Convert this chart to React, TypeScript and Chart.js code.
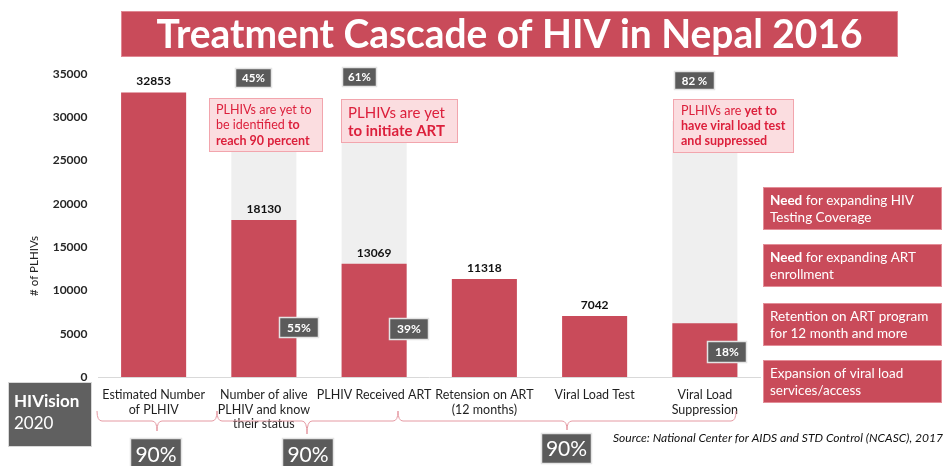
import React, { useEffect, useRef } from "react";
import { Chart, registerables } from "chart.js";

Chart.register(...registerables);

// ---------- data ----------
const categories: string[][] = [
  ["Estimated Number", "of PLHIV"],
  ["Number of alive", "PLHIV and know", "their status"],
  ["PLHIV Received ART"],
  ["Retension on ART", "(12 months)"],
  ["Viral Load Test"],
  ["Viral Load", "Suppression"],
];
const plhivValues = [32853, 18130, 13069, 11318, 7042, 6200];
const valueLabels = ["32853", "18130", "13069", "11318", "7042", ""];
const targetValues = [null, 29568, 29568, null, null, 29568];
const yMin = 0;
const yMax = 35000;
const yStep = 5000;
const gapPercents = ["45%", "61%", "82 %"];
const reachedPercents = ["55%", "39%", "18%"];
const titleText = "Treatment Cascade of HIV in Nepal 2016";
const yAxisTitle = "# of PLHIVs";
const sourceText = "Source: National Center for AIDS and STD Control (NCASC), 2017";
const targetPercents = ["90%", "90%", "90%"];

type Seg = { t: string; b?: boolean };
const gapNotes: Seg[][][] = [
  [[{ t: "PLHIVs are yet to" }], [{ t: "be identified " }, { t: "to", b: true }], [{ t: "reach 90 percent", b: true }]],
  [[{ t: "PLHIVs are yet" }], [{ t: "to initiate ART", b: true }]],
  [[{ t: "PLHIVs are " }, { t: "yet to", b: true }], [{ t: "have viral load test", b: true }], [{ t: "and suppressed", b: true }]],
];
const needNotes: Seg[][][] = [
  [[{ t: "Need", b: true }, { t: " for expanding HIV" }], [{ t: "Testing Coverage" }]],
  [[{ t: "Need", b: true }, { t: " for expanding ART" }], [{ t: "enrollment" }]],
  [[{ t: "Retention on ART program" }], [{ t: "for 12 month and more" }]],
  [[{ t: "Expansion of viral load" }], [{ t: "services/access" }]],
];

const FONT = 'Lato, "Open Sans", sans-serif';
const RED = "#c94b5a";
const DARK = "#5b5b5b";

function drawRich(ctx: CanvasRenderingContext2D, segs: Seg[], x: number, y: number, size: number, color: string) {
  let cx = x;
  ctx.fillStyle = color;
  ctx.textAlign = "left";
  ctx.textBaseline = "middle";
  for (const s of segs) {
    ctx.font = `${s.b ? "bold " : ""}${size}px ${FONT}`;
    ctx.fillText(s.t, cx, y);
    cx += ctx.measureText(s.t).width;
  }
}

function rect(ctx: CanvasRenderingContext2D, x1: number, y1: number, x2: number, y2: number, fill: string, stroke?: string, lw = 1) {
  ctx.fillStyle = fill;
  ctx.fillRect(x1, y1, x2 - x1, y2 - y1);
  if (stroke) {
    ctx.strokeStyle = stroke;
    ctx.lineWidth = lw;
    ctx.strokeRect(x1 + 0.5, y1 + 0.5, x2 - x1 - 1, y2 - y1 - 1);
  }
}

function tag(ctx: CanvasRenderingContext2D, x1: number, y1: number, x2: number, y2: number, text: string, size: number, bold: boolean) {
  rect(ctx, x1, y1, x2, y2, DARK, "#e4e4e4", 1.5);
  ctx.fillStyle = "#ffffff";
  ctx.font = `${bold ? "bold " : ""}${size}px ${FONT}`;
  ctx.textAlign = "center";
  ctx.textBaseline = "middle";
  ctx.fillText(text, (x1 + x2) / 2, (y1 + y2) / 2 + 0.5);
}

function brace(ctx: CanvasRenderingContext2D, x1: number, x2: number, xm: number, yTop: number, yMid: number, yTip: number) {
  const r = 5;
  ctx.beginPath();
  ctx.moveTo(x1, yTop);
  ctx.quadraticCurveTo(x1, yMid, x1 + r, yMid);
  ctx.lineTo(xm - r, yMid);
  ctx.quadraticCurveTo(xm, yMid, xm, yTip);
  ctx.quadraticCurveTo(xm, yMid, xm + r, yMid);
  ctx.lineTo(x2 - r, yMid);
  ctx.quadraticCurveTo(x2, yMid, x2, yTop);
  ctx.strokeStyle = "#e59aa3";
  ctx.lineWidth = 1;
  ctx.stroke();
}

const decorPlugin = {
  id: "decor",
  afterDraw(chart: any) {
    const ctx: CanvasRenderingContext2D = chart.ctx;
    ctx.save();

    // value labels above bars
    const meta = chart.getDatasetMeta(0);
    ctx.font = `bold 12px ${FONT}`;
    ctx.fillStyle = "#111111";
    ctx.textAlign = "center";
    ctx.textBaseline = "middle";
    meta.data.forEach((el: any, i: number) => {
      if (valueLabels[i]) ctx.fillText(valueLabels[i], el.x, el.y - 11);
    });

    // title
    rect(ctx, 121, 11, 898, 57, RED, "#e08893", 1);
    ctx.font = `bold 40px ${FONT}`;
    const w = ctx.measureText(titleText).width;
    const sx = 706 / w;
    ctx.save();
    ctx.translate(509.5, 35);
    ctx.scale(sx, 1);
    ctx.fillStyle = "#ffffff";
    ctx.textAlign = "center";
    ctx.textBaseline = "middle";
    ctx.fillText(titleText, 0, 0);
    ctx.restore();

    // y axis title
    ctx.save();
    ctx.translate(34, 266);
    ctx.rotate(-Math.PI / 2);
    ctx.font = `11.5px ${FONT}`;
    ctx.fillStyle = "#222222";
    ctx.textAlign = "center";
    ctx.textBaseline = "middle";
    ctx.fillText(yAxisTitle, 0, 0);
    ctx.restore();

    // gap percent tags
    tag(ctx, 235, 68, 272, 88, gapPercents[0], 11.5, true);
    tag(ctx, 342, 67, 377, 87, gapPercents[1], 11.5, true);
    tag(ctx, 674, 71, 715, 90, gapPercents[2], 11.5, true);

    // pink notes
    const pink = "#fbdde0";
    const pinkB = "#f2a5ad";
    const noteColor = "#dc1f3b";
    rect(ctx, 209, 98, 323, 152, pink, pinkB);
    gapNotes[0].forEach((l, i) => drawRich(ctx, l, 216, 110 + i * 15.3, 12.5, noteColor));
    rect(ctx, 341, 99, 458, 143, pink, pinkB);
    gapNotes[1].forEach((l, i) => drawRich(ctx, l, 348, 113 + i * 18, 15, noteColor));
    rect(ctx, 673, 99, 794, 153, pink, pinkB);
    gapNotes[2].forEach((l, i) => drawRich(ctx, l, 681, 111 + i * 15, 12.5, noteColor));

    // reached percent tags
    tag(ctx, 279, 317, 319, 338, reachedPercents[0], 12, true);
    tag(ctx, 389, 318, 429, 340, reachedPercents[1], 12, true);
    tag(ctx, 707, 341, 747, 363, reachedPercents[2], 12, true);

    // right-hand need boxes
    const tops = [187, 244, 303, 360];
    needNotes.forEach((lines, k) => {
      rect(ctx, 763, tops[k], 942, tops[k] + 43, RED, "#e38e98", 1);
      lines.forEach((l, i) => drawRich(ctx, l, 770, tops[k] + 13.5 + i * 17, 13.5, "#ffffff"));
    });

    // HIVision box
    rect(ctx, 8, 382, 92, 447, "#606060", "#d8d8d8", 1);
    drawRich(ctx, [{ t: "HIVision", b: true }], 14, 402, 17, "#ffffff");
    drawRich(ctx, [{ t: "2020" }], 14, 424, 17, "#ffffff");

    // braces
    brace(ctx, 97, 217, 157, 411, 421, 431);
    brace(ctx, 217, 398, 307, 411, 421, 434);
    brace(ctx, 398, 736, 567, 411, 421, 430);

    // 90% boxes
    tag(ctx, 130, 438, 182, 472, targetPercents[0], 21, false);
    tag(ctx, 282, 438, 334, 472, targetPercents[1], 21, false);
    tag(ctx, 541, 433, 592, 464, targetPercents[2], 21, false);

    // source
    ctx.font = `italic 11px ${FONT}`;
    const sw = ctx.measureText(sourceText).width;
    ctx.save();
    ctx.translate(613, 438);
    ctx.scale(330 / sw, 1);
    ctx.fillStyle = "#111111";
    ctx.textAlign = "left";
    ctx.textBaseline = "middle";
    ctx.fillText(sourceText, 0, 0);
    ctx.restore();

    ctx.restore();
  },
};

export default function App() {
  const ref = useRef<HTMLCanvasElement | null>(null);
  useEffect(() => {
    if (!ref.current) return;
    const chart = new Chart(ref.current, {
      type: "bar",
      data: {
        labels: categories,
        datasets: [
          {
            label: "PLHIVs",
            data: plhivValues,
            backgroundColor: RED,
            borderWidth: 0,
            grouped: false,
            order: 0,
            categoryPercentage: 1,
            barPercentage: 0.59,
          } as any,
          {
            label: "Target",
            data: targetValues,
            backgroundColor: "#efefef",
            borderWidth: 0,
            grouped: false,
            order: 1,
            categoryPercentage: 1,
            barPercentage: 0.59,
          } as any,
        ],
      },
      options: {
        animation: false,
        responsive: false,
        devicePixelRatio: 1,
        layout: { padding: { left: 0, right: 185, top: 74, bottom: 0 } },
        plugins: { legend: { display: false }, tooltip: { enabled: false }, title: { display: false } },
        scales: {
          x: {
            grid: { display: false, drawTicks: false },
            border: { display: true, color: "#d9d9d9", width: 1 },
            ticks: {
              padding: 11,
              color: "#1f1f1f",
              font: { family: FONT, size: 12.5, lineHeight: 1.16 },
              maxRotation: 0,
              autoSkip: false,
            },
            afterFit: (s: any) => {
              s.height = 89;
            },
          },
          y: {
            min: yMin,
            max: yMax,
            grid: { display: false, drawTicks: false },
            border: { display: false },
            ticks: {
              stepSize: yStep,
              padding: 11,
              color: "#262626",
              font: { family: FONT, size: 12, weight: "bold" },
              callback: (v: any) => String(v),
            },
            afterFit: (s: any) => {
              s.width = 98.5;
            },
          },
        },
      },
      plugins: [decorPlugin],
    });
    return () => chart.destroy();
  }, []);
  return (
    <div style={{ position: "fixed", left: 0, top: 0, width: 945, height: 466, background: "#ffffff" }}>
      <canvas ref={ref} width={945} height={466} style={{ width: 945, height: 466, display: "block" }} />
    </div>
  );
}
